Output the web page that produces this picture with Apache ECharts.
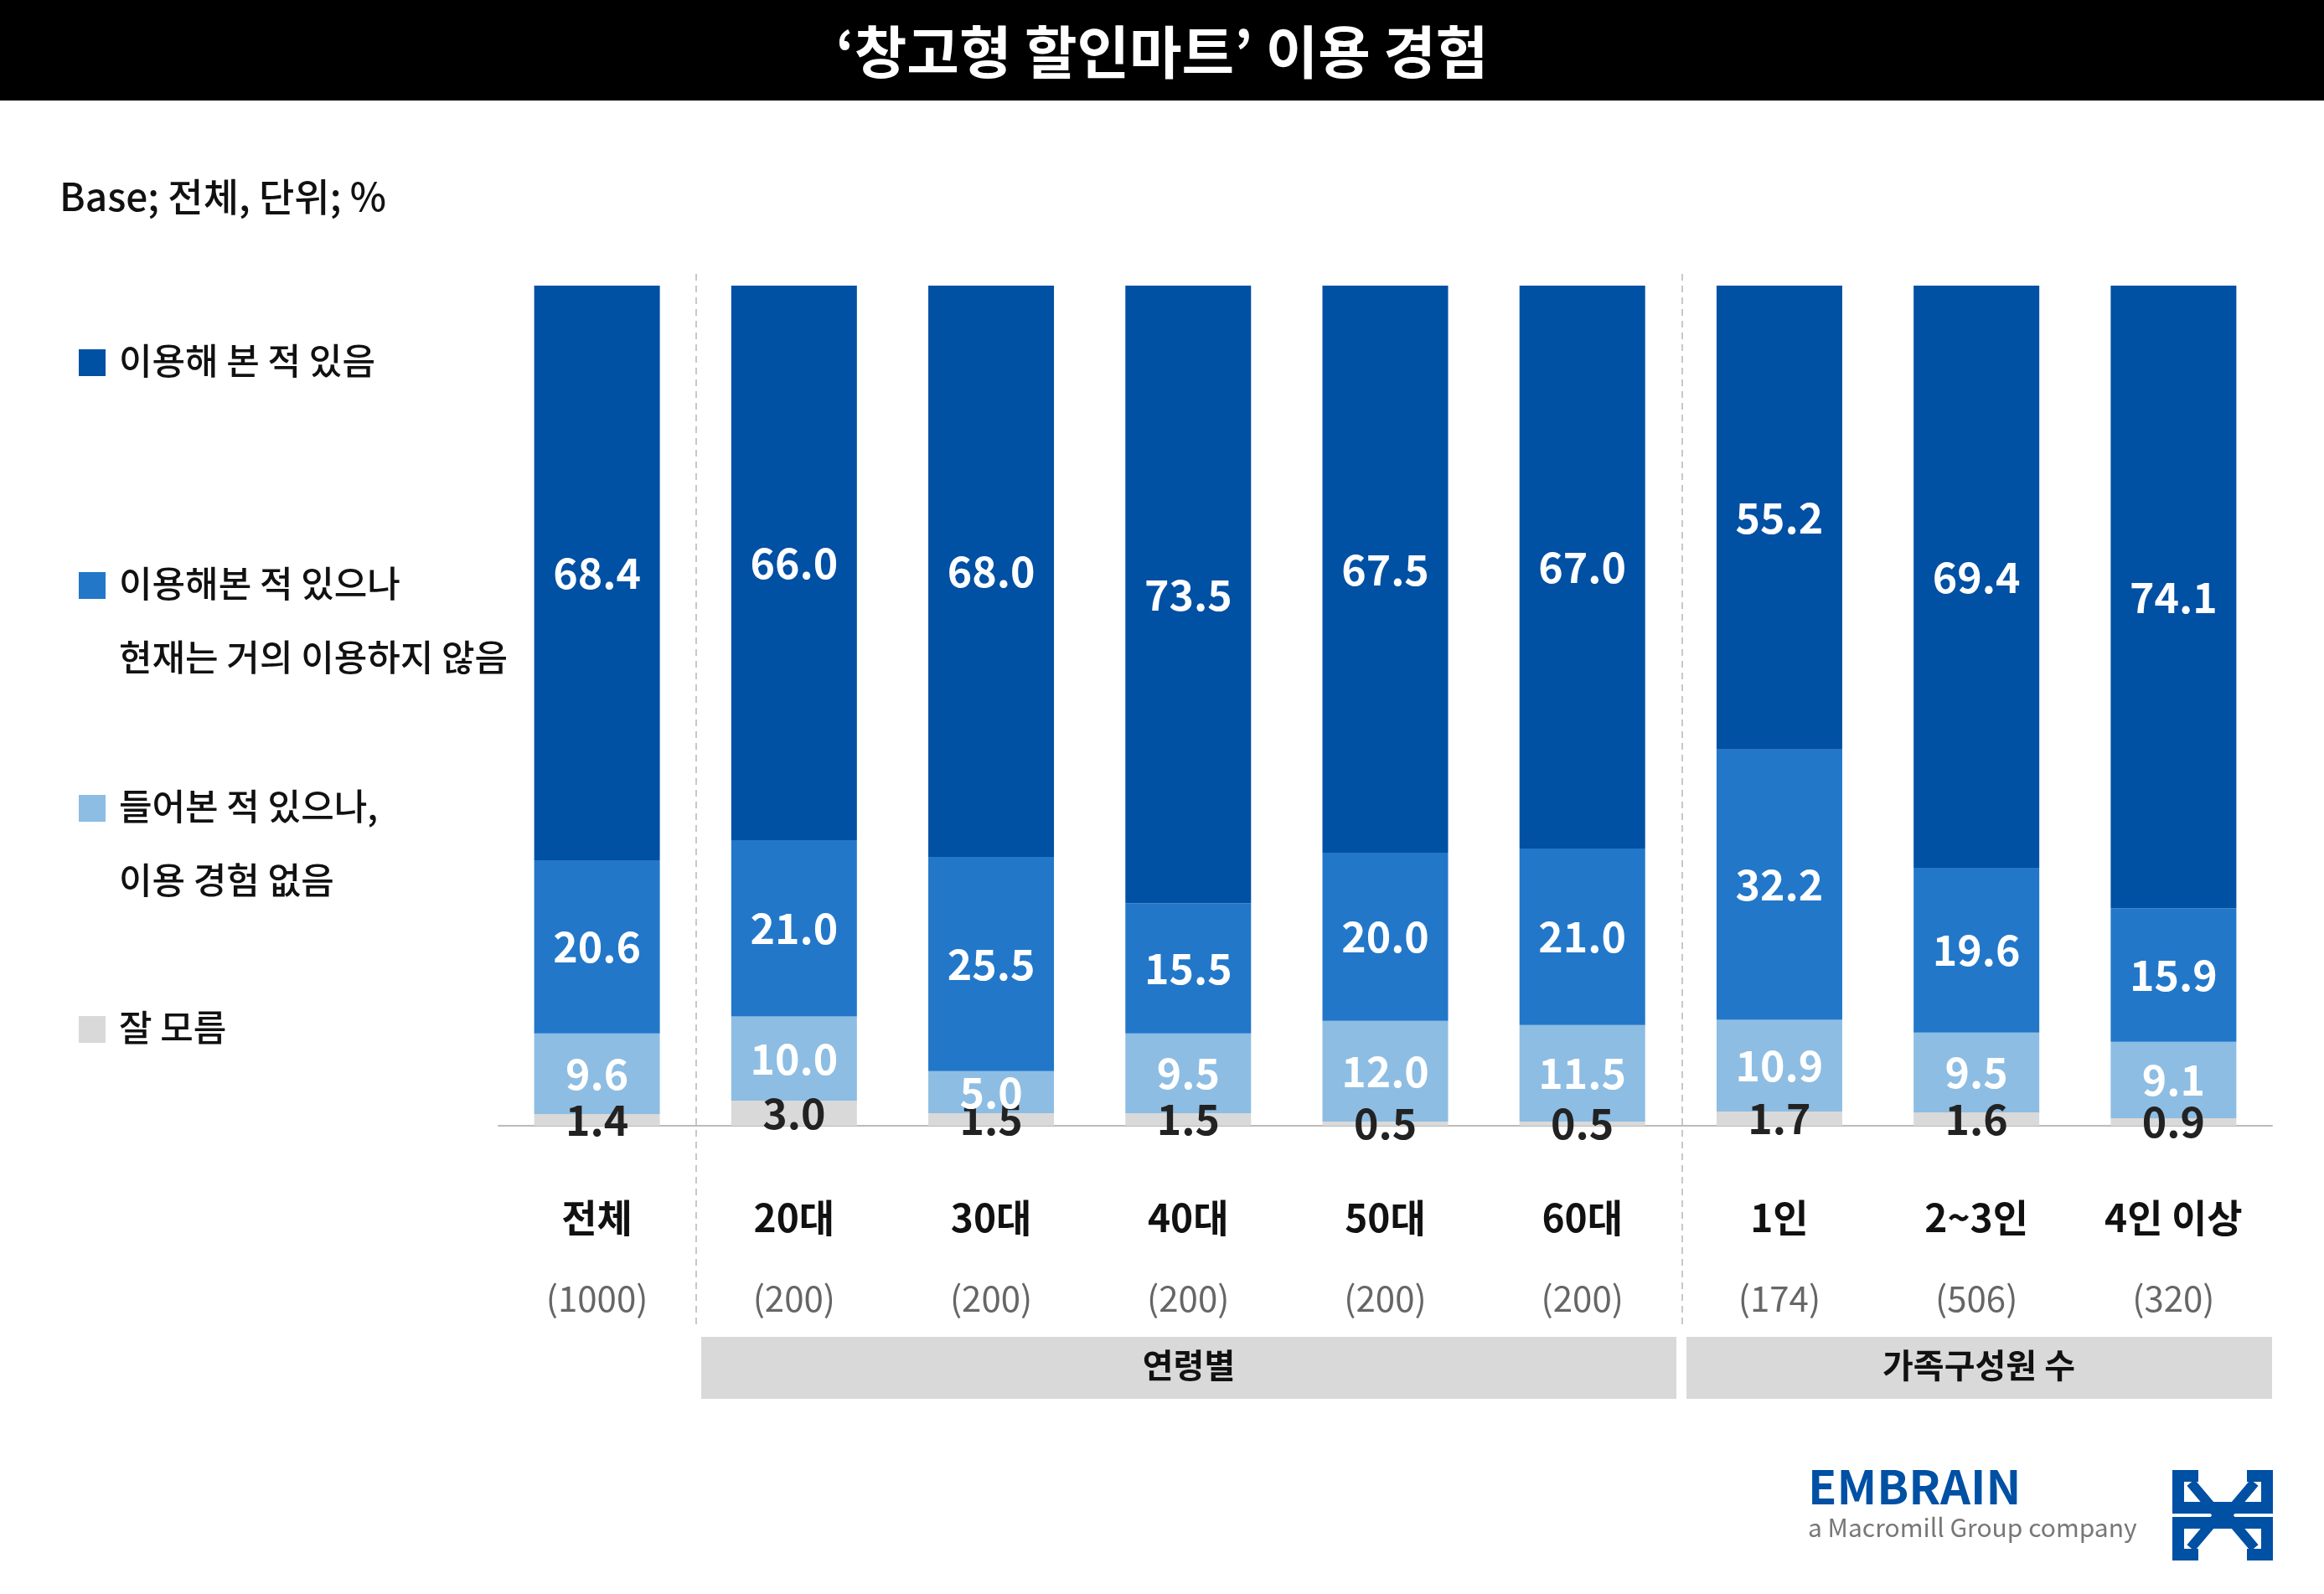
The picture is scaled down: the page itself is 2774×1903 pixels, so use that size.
<!DOCTYPE html>
<html><head><meta charset="utf-8">
<script src="https://cdn.jsdelivr.net/npm/echarts@6.0.0/dist/echarts.min.js"></script>
<style>html,body{margin:0;padding:0;background:#fff}#c{width:2774px;height:1903px}</style>
</head><body><div id="c"></div>
<script>
const categories = ['전체', '20대', '30대', '40대', '50대', '60대', '1인', '2~3인', '4인 이상'];
const baseCounts = ['(1000)', '(200)', '(200)', '(200)', '(200)', '(200)', '(174)', '(506)', '(320)'];
const seriesNames = ['잘 모름', '들어본 적 있으나,\n이용 경험 없음', '이용해본 적 있으나\n현재는 거의 이용하지 않음', '이용해 본 적 있음'];
const dontKnow = [1.4, 3.0, 1.5, 1.5, 0.5, 0.5, 1.7, 1.6, 0.9];
const heardOnly = [9.6, 10.0, 5.0, 9.5, 12.0, 11.5, 10.9, 9.5, 9.1];
const usedNotNow = [20.6, 21.0, 25.5, 15.5, 20.0, 21.0, 32.2, 19.6, 15.9];
const used = [68.4, 66.0, 68.0, 73.5, 67.5, 67.0, 55.2, 69.4, 74.1];
const colors = ['#D9D9D9', '#8DBDE3', '#2277C9', '#0050A4'];
const FONT = '"Noto Sans CJK KR", "Noto Sans", sans-serif';

const chart = echarts.init(document.getElementById('c'));
const values = [dontKnow, heardOnly, usedNotNow, used];
const series = values.map((v, i) => ({
  name: seriesNames[i], type: 'bar', stack: 'all', data: v, barWidth: 150,
  itemStyle: { color: colors[i] },
  label: { show: true, position: 'inside', color: i === 0 ? '#222' : '#fff',
    fontSize: 50, fontWeight: 'bold', fontFamily: FONT, formatter: p => p.value.toFixed(1) }
}));

// legend (top = last series)
const legendG = [];
const legendY = [433, 699, 965, 1229];
[3, 2, 1, 0].forEach((si, k) => {
  legendG.push({ type: 'rect', shape: { x: 94, y: legendY[k] - 16, width: 32, height: 32 }, style: { fill: colors[si] } });
  legendG.push({ type: 'text', x: 142, y: legendY[k] - 46, style: { text: seriesNames[si], font: '500 43px ' + FONT, fill: '#111', lineHeight: 88 } });
});

chart.setOption({
  animation: false,
  textStyle: { fontFamily: FONT },
  grid: { left: 595, right: 62, top: 341, bottom: 1903 - 1344 },
  xAxis: { type: 'category', data: categories,
    axisLine: { lineStyle: { color: '#bbb', width: 2 } }, axisTick: { show: false },
    axisLabel: { margin: 62, formatter: (v, i) => '{a|' + v + '}\n{b|' + baseCounts[i] + '}',
      rich: { a: { fontSize: 46, fontWeight: 'bold', color: '#111', fontFamily: FONT, lineHeight: 96 },
              b: { fontSize: 42, color: '#666', fontFamily: FONT, lineHeight: 96 } } } },
  yAxis: { type: 'value', min: 0, max: 100, show: false },
  series: series,
  graphic: [
    { type: 'rect', shape: { x: 0, y: 0, width: 2774, height: 120 }, style: { fill: '#000' } },
    { type: 'text', x: 1387, y: 62, style: { text: '‘창고형 할인마트’ 이용 경험', font: 'bold 68px ' + FONT, fill: '#fff', align: 'center', verticalAlign: 'middle' } },
    { type: 'text', x: 71, y: 235, style: { text: 'Base; 전체, 단위; %', font: '500 46px ' + FONT, fill: '#111', verticalAlign: 'middle' } },
    { type: 'line', shape: { x1: 831, y1: 327, x2: 831, y2: 1583 }, style: { stroke: '#c8c8c8', lineWidth: 2, lineDash: [8, 6] } },
    { type: 'line', shape: { x1: 2008, y1: 327, x2: 2008, y2: 1583 }, style: { stroke: '#c8c8c8', lineWidth: 2, lineDash: [8, 6] } },
    { type: 'rect', shape: { x: 837, y: 1596, width: 1164, height: 74 }, style: { fill: '#D9D9D9' } },
    { type: 'text', x: 1419, y: 1630, style: { text: '연령별', font: 'bold 40px ' + FONT, fill: '#111', align: 'center', verticalAlign: 'middle' } },
    { type: 'rect', shape: { x: 2013, y: 1596, width: 699, height: 74 }, style: { fill: '#D9D9D9' } },
    { type: 'text', x: 2362, y: 1630, style: { text: '가족구성원 수', font: 'bold 40px ' + FONT, fill: '#111', align: 'center', verticalAlign: 'middle' } },
    { type: 'text', x: 2158, y: 1775, style: { text: 'EMBRAIN', font: 'bold 56px ' + FONT, fill: '#0050A4', verticalAlign: 'middle' } },
    { type: 'text', x: 2158, y: 1824, style: { text: 'a Macromill Group company', font: '30px ' + FONT, fill: '#777', verticalAlign: 'middle' } },
    { type: 'polyline', shape: { points: [[2624, 1762], [2600, 1762], [2600, 1800], [2653, 1800], [2706, 1800], [2706, 1762], [2682, 1762]] }, style: { stroke: '#0050A4', lineWidth: 14, fill: null } },
    { type: 'polyline', shape: { points: [[2615, 1770], [2653, 1815], [2691, 1770]] }, style: { stroke: '#0050A4', lineWidth: 12, fill: null } },
    { type: 'polyline', shape: { points: [[2624, 1856], [2600, 1856], [2600, 1818], [2706, 1818], [2706, 1856], [2682, 1856]] }, style: { stroke: '#0050A4', lineWidth: 14, fill: null } },
    { type: 'polyline', shape: { points: [[2615, 1848], [2653, 1803], [2691, 1848]] }, style: { stroke: '#0050A4', lineWidth: 12, fill: null } }
  ].concat(legendG)
});
</script></body></html>
